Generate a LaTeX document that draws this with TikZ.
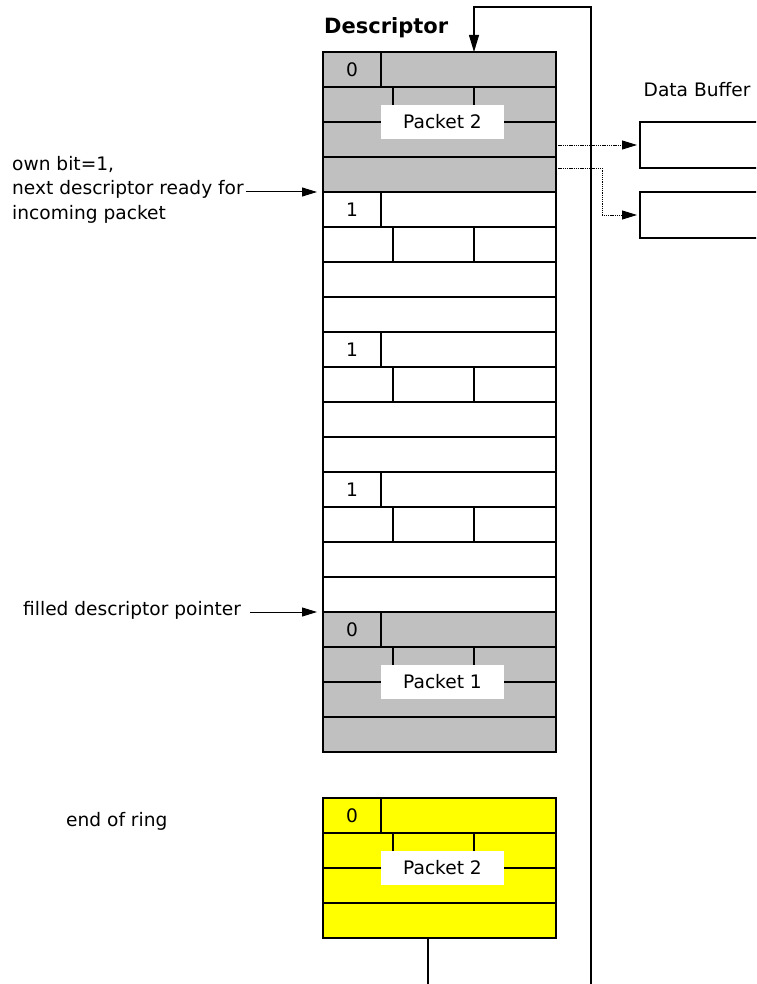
\documentclass[tikz,border=0pt]{standalone}
\usepackage{fontspec}
\setmainfont{DejaVu Sans}
\usetikzlibrary{arrows.meta,calc}
\definecolor{descgray}{HTML}{C0C0C0}
\definecolor{ringyellow}{HTML}{FFFF00}
\tikzset{
  rowbox/.style={draw=black, line width=1.1pt, minimum width=233pt, minimum height=35pt,
    inner sep=0pt, outer sep=0pt, anchor=north west},
  divider/.style={line width=1.1pt},
  bit/.style={inner sep=0pt, font=\fontsize{18.6}{22}\selectfont},
  pktlabel/.style={fill=white, minimum width=123pt, minimum height=34pt, inner sep=0pt,
    font=\fontsize{18.6}{22}\selectfont},
  lbl/.style={inner sep=0pt, anchor=west, text height=0.75em, text depth=0.25em,
    font=\fontsize{18.6}{22}\selectfont},
  bufbox/.style={draw=black, line width=1.1pt, minimum width=140pt, minimum height=46pt,
    inner sep=0pt, outer sep=0pt, anchor=north west},
  ptr/.style={-{Triangle[length=15pt,width=9pt]}, line width=1pt},
  dotptr/.style={-{Triangle[length=15pt,width=9pt]}, line width=0.9pt, dash pattern=on 1.3pt off 0.9pt},
  ringline/.style={line width=1.1pt},
}
\newcommand\descblock[4]{%
  \foreach \r in {0,1,2,3}{\node[rowbox, fill=#3] (#1r\r) at (323,{#2+35*\r}) {};}
  \draw[divider] (381,#2) -- (381,{#2+35});
  \draw[divider] (393,{#2+35}) -- (393,{#2+70});
  \draw[divider] (474,{#2+35}) -- (474,{#2+70});
  \node[bit] (#1bit) at (352,{#2+17.5}) {#4};
}
\begin{document}
\begin{tikzpicture}[x=1pt,y=-1pt]
\useasboundingbox (0,0) rectangle (756,984);
\clip (0,0) rectangle (756,984);

% descriptors
\descblock{A}{52}{descgray}{0}
\descblock{B}{192}{white}{1}
\descblock{C}{332}{white}{1}
\descblock{D}{472}{white}{1}
\descblock{E}{612}{descgray}{0}
\descblock{Y}{798}{ringyellow}{0}

\node[pktlabel] (pkA) at (442.5,122) {Packet 2};
\node[pktlabel] (pkE) at (442.5,682) {Packet 1};
\node[pktlabel] (pkY) at (442.5,868) {Packet 2};

% titles
\node[inner sep=0pt, anchor=west, text height=0.75em, text depth=0.25em,
  font=\fontsize{21}{24}\selectfont\bfseries] (title) at (324,31.5) {Descriptor};
\node[lbl] (buftitle) at (643.5,94.4) {Data Buffer};

% data buffers
\node[bufbox] (buf1) at (640,122) {};
\node[bufbox] (buf2) at (640,192) {};

% left labels
\node[lbl] (own1) at (12,168.5) {own bit=1,};
\node[lbl] (own2) at (12,192.5) {next descriptor ready for};
\node[lbl] (own3) at (12,216.5) {incoming packet};
\node[lbl] (filled) at (23,613) {filled descriptor pointer};
\node[lbl] (eor) at (66,823.5) {end of ring};

\draw[ptr, shorten >=6pt, shorten <=2pt] (own2.east |- Br0.north west) -- (Br0.north west);
\draw[ptr, shorten >=6pt, shorten <=9pt] (filled.east |- Er0.north west) -- (Er0.north west);

% ring connectors
\coordinate (ringTR) at (591,7);
\coordinate (ringBR) at (591,984);
\coordinate (ringTL) at (474,7);
\coordinate (ringBot) at (428,984);
\draw[ringline, -{Triangle[length=17pt,width=10pt]}] (ringBR) -- (ringTR) -- (ringTL) -- (ringTL |- Ar0.north);
\draw[ringline] (Yr3.south -| ringBot) -- (ringBot);

% pointers to data buffers
\draw[dotptr, shorten >=3pt] (Ar2.east |- buf1.west) -- (buf1.west);
\coordinate (bend) at (602,168);
\draw[dotptr, shorten >=3pt] (Ar3.east |- bend) -- (bend) |- (buf2.west);
\end{tikzpicture}
\end{document}
